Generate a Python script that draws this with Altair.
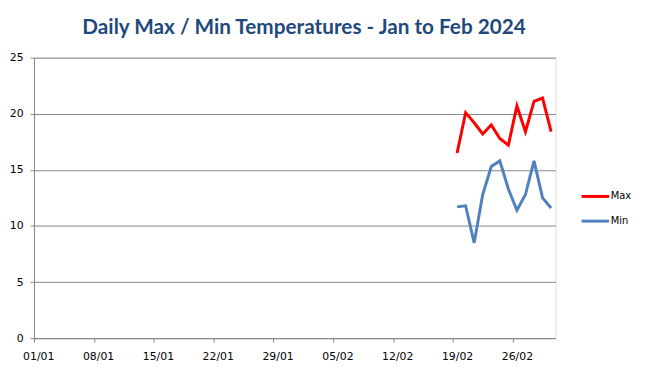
import altair as alt
import pandas as pd

dates = ["2024-02-19", "2024-02-20", "2024-02-21", "2024-02-22", "2024-02-23", "2024-02-24",
         "2024-02-25", "2024-02-26", "2024-02-27", "2024-02-28", "2024-02-29", "2024-03-01"]
max_temps = [16.5, 20.1, 19.2, 18.2, 19.0, 17.8, 17.2, 20.7, 18.4, 21.1, 21.4, 18.4]
min_temps = [11.7, 11.8, 8.5, 12.8, 15.3, 15.8, 13.3, 11.4, 12.8, 15.8, 12.5, 11.6]
series = ["Max", "Min"]
colors = ["#FF0000", "#4F81BD"]
tick_dates = [(2024, 1, 1), (2024, 1, 8), (2024, 1, 15), (2024, 1, 22), (2024, 1, 29),
              (2024, 2, 5), (2024, 2, 12), (2024, 2, 19), (2024, 2, 26)]
title_text = "Daily Max / Min Temperatures - Jan to Feb 2024"

rows = []
for d, mx, mn in zip(dates, max_temps, min_temps):
    rows.append({"date": d + "T00:00:00", "series": "Max", "temp": mx})
    rows.append({"date": d + "T00:00:00", "series": "Min", "temp": mn})
df = pd.DataFrame(rows)

tick_values = [alt.DateTime(year=y, month=m, date=dd) for y, m, dd in tick_dates]

chart = alt.Chart(df).transform_calculate(
    # Excel date axis: each day's value sits in the middle of its day slot
    midday="datetime(year(datum.date), month(datum.date), date(datum.date), 12, 0, 0, 0)"
).mark_line(strokeWidth=3).encode(
    x=alt.X("midday:T",
            scale=alt.Scale(domain=[alt.DateTime(year=2024, month=1, date=1),
                                    alt.DateTime(year=2024, month=3, date=2)]),
            axis=alt.Axis(title=None, values=tick_values, format="%d/%m", grid=False,
                          labelOffset=4.3, labelFlush=False, tickSize=4, labelPadding=9,
                          labelFont="DejaVu Sans", labelFontSize=11, labelColor="#000000",
                          domainColor="#868686", tickColor="#868686", labelAngle=0)),
    y=alt.Y("temp:Q", scale=alt.Scale(domain=[0, 25]),
            axis=alt.Axis(title=None, values=[0, 5, 10, 15, 20, 25], grid=True,
                          gridColor="#868686", domainColor="#868686", tickColor="#868686",
                          tickSize=4, labelPadding=7, labelFont="DejaVu Sans",
                          labelFontSize=11, labelColor="#000000")),
    color=alt.Color("series:N", scale=alt.Scale(domain=series, range=colors),
                    legend=alt.Legend(title=None, orient="none", legendX=553, legendY=125,
                                      symbolType="stroke", symbolSize=784, symbolStrokeWidth=3,
                                      labelFont="DejaVu Sans", labelFontSize=10,
                                      labelColor="#000000", rowPadding=3, padding=0,
                                      labelOffset=0)),
).properties(
    width=528,
    height=284,
    title=alt.TitleParams(title_text, font="Lato", fontSize=21, fontWeight="bold",
                          color="#1F497D", anchor="middle", dx=9.5, offset=14),
    padding={"left": 26.3, "top": 48, "right": 86.7, "bottom": 35},
    autosize=alt.AutoSizeParams(type="none"),
).configure_view(stroke=None).configure(background="white")

chart.save("out.html", embed_options={"renderer": "svg", "actions": False})
